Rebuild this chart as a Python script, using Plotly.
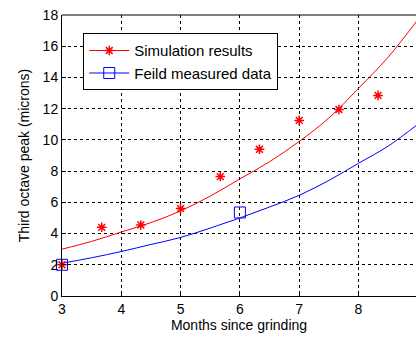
import plotly.graph_objects as go

# Simulation results (red stars)
sim_x = [3, 3.67, 4.33, 5, 5.67, 6.33, 7, 7.67, 8.33, 9]
sim_y = [2.0, 4.4, 4.55, 5.6, 7.65, 9.4, 11.25, 11.95, 12.85, 14.9]

# Field measured data (blue squares)
fld_x = [3, 6, 9]
fld_y = [2.0, 5.35, 11.0]

# Fitted curves
curve_x = [3, 3.5, 4, 4.5, 5, 5.5, 6, 6.5, 7, 7.5, 8, 8.5, 9]
red_curve = [3.0, 3.5, 4.1, 4.7, 5.45, 6.4, 7.5, 8.6, 9.9, 11.4, 13.3, 15.3, 17.7]
blue_curve = [2.1, 2.45, 2.85, 3.3, 3.75, 4.35, 5.0, 5.7, 6.45, 7.4, 8.5, 9.6, 11.0]

x_ticks = [3, 4, 5, 6, 7, 8, 9]
y_ticks = [0, 2, 4, 6, 8, 10, 12, 14, 16, 18]

RED = "#ff0000"
BLUE = "#0000ff"
FONT = "Liberation Sans, Arial, sans-serif"

fig = go.Figure()
fig.add_trace(go.Scatter(x=curve_x, y=red_curve, mode="lines", line=dict(color=RED, width=1, shape="spline"),
                         showlegend=False, hoverinfo="skip"))
fig.add_trace(go.Scatter(x=curve_x, y=blue_curve, mode="lines", line=dict(color=BLUE, width=1, shape="spline"),
                         showlegend=False, hoverinfo="skip"))
fig.add_trace(go.Scatter(x=sim_x, y=sim_y, mode="markers",
                         marker=dict(symbol="asterisk-open", size=8, color=RED, line=dict(color=RED, width=1.5)),
                         showlegend=False, cliponaxis=False))
fig.add_trace(go.Scatter(x=fld_x, y=fld_y, mode="markers",
                         marker=dict(symbol="square-open", size=11, color=BLUE, line=dict(color=BLUE, width=1)),
                         showlegend=False, cliponaxis=False))
# legend entries
fig.add_trace(go.Scatter(x=[None], y=[None], mode="lines+markers", name="Simulation results",
                         line=dict(color=RED, width=1),
                         marker=dict(symbol="asterisk-open", size=8, color=RED, line=dict(color=RED, width=1.5))))
fig.add_trace(go.Scatter(x=[None], y=[None], mode="lines+markers", name="Feild measured data",
                         line=dict(color=BLUE, width=1),
                         marker=dict(symbol="square-open", size=11, color=BLUE, line=dict(color=BLUE, width=1))))

axis_common = dict(
    showgrid=True, gridcolor="black", griddash="dot", gridwidth=1,
    showline=True, linecolor="black", linewidth=1, mirror=False,
    ticks="inside", ticklen=4, tickcolor="black",
    tickfont=dict(family=FONT, size=14, color="black"),
    zeroline=False,
)

fig.update_layout(
    width=416, height=342,
    margin=dict(l=62, r=0, t=15, b=46),
    paper_bgcolor="white", plot_bgcolor="white",
    font=dict(family=FONT, size=13, color="black"),
    xaxis=dict(range=[3, 8.97], tickvals=x_ticks,
               title=dict(text="Months since grinding", font=dict(family=FONT, size=14), standoff=4),
               **axis_common),
    yaxis=dict(range=[0, 18], tickvals=y_ticks,
               title=dict(text="Third octave peak (microns)", font=dict(family=FONT, size=14), standoff=9),
               **axis_common),
    legend=dict(x=0.06, y=0.935, xanchor="left", yanchor="top",
                bgcolor="white", bordercolor="black", borderwidth=1,
                font=dict(family=FONT, size=15), tracegroupgap=2, itemwidth=40),
    showlegend=True,
)
# top border of the axes box
fig.add_shape(type="line", xref="paper", yref="paper", x0=0, x1=1, y0=1, y1=1,
              line=dict(color="black", width=1))

fig.write_html("out.html")
